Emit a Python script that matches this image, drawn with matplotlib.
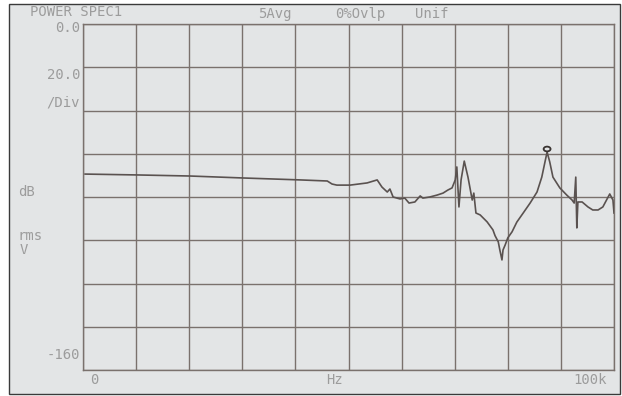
import numpy as np
import matplotlib
matplotlib.use("Agg")
import matplotlib.pyplot as plt
from matplotlib.patches import Rectangle, Ellipse

# spectrum trace (frequency in kHz, level in dB)
freq_khz = [0.4, 10.2, 20.2, 30.1, 40.9, 46.0, 46.9, 47.8, 50.3, 53.5, 55.4, 56.3,
            57.3, 57.8, 58.4, 59.7, 60.6, 61.4, 62.5, 63.5, 64.0, 65.3, 66.7, 67.8,
            68.7, 69.5, 70.1, 70.4, 70.8, 71.2, 71.8, 72.5, 73.3, 73.6, 74.0, 74.8,
            76.1, 77.2, 77.6, 78.2, 78.5, 78.9, 79.1, 79.5, 80.0, 80.8, 81.7,
            82.9, 84.2, 85.5, 86.4, 87.0, 87.4, 87.9, 88.5, 89.8, 91.1, 92.1, 92.5,
            92.8, 93.0, 93.2, 94.0, 95.1, 96.0, 97.0, 97.9, 98.7, 99.2, 99.8, 100.0]
level_db = [-69.4, -69.8, -70.3, -71.2, -72.1, -72.6, -74.0, -74.5, -74.5, -73.5, -72.1, -75.4,
            -77.7, -76.3, -80.0, -80.9, -80.5, -82.8, -82.3, -79.5, -80.5, -80.0, -79.1, -78.2,
            -76.8, -75.8, -72.1, -66.1, -84.6, -72.1, -63.4, -70.8, -81.4, -78.2, -87.4, -88.3,
            -91.5, -95.2, -97.9, -100.7, -104.5, -109.1, -104.5, -102.2, -98.9, -96.1, -91.6,
            -87.4, -82.8, -77.7, -70.8, -63.8, -59.2, -63.8, -70.8, -75.8, -79.1, -81.4, -82.8,
            -70.8, -94.3, -82.3, -82.3, -84.6, -86.0, -86.0, -84.6, -80.9, -78.6, -81.4, -87.4]

marker_khz = 87.4
marker_db = -57.8

x_ticks = np.arange(0, 101, 10)
y_ticks = np.arange(-160, 1, 20)

W, H = 622, 396
bg = "#e3e5e6"
grid_c = "#7a716d"
trace_c = "#5a5250"
txt_c = "#9c9c9c"

fig = plt.figure(figsize=(W / 100, H / 100), dpi=100)
fig.patch.set_facecolor("white")

# scanned frame, kept behind the axes
fig.patches.append(Rectangle((9 / W, 1 - 394 / H), 611 / W, 390 / H,
                             transform=fig.transFigure, facecolor=bg,
                             edgecolor="#3a3a3a", linewidth=1.0, zorder=-5))

ax = fig.add_axes([83 / W, 1 - 370 / H, 531 / W, 346 / H])
ax.set_facecolor(bg)
ax.set_xlim(0, 100)
ax.set_ylim(-160, 0)
ax.set_xticks(x_ticks)
ax.set_yticks(y_ticks)
ax.tick_params(length=0, labelbottom=False, labelleft=False)
ax.grid(True, color=grid_c, linewidth=1.0)
for s in ax.spines.values():
    s.set_color(grid_c)
    s.set_linewidth(1.0)

ax.plot(freq_khz, level_db, color=trace_c, linewidth=1.2, zorder=3)
ax.add_patch(Ellipse((marker_khz, marker_db), 1.3, 2.2, facecolor="none",
                     edgecolor="#3a3432", linewidth=1.3, zorder=4))

mono = "DejaVu Sans Mono"


def label(px, py, s, ha="left", size=10):
    fig.text(px / W, 1 - py / H, s, ha=ha, va="center", color=txt_c,
             family=mono, fontsize=size)


label(30, 12, "POWER SPEC1")
label(258, 14, "5Avg")
label(335, 14, "0%Ovlp")
label(415, 14, "Unif")
label(80, 28, "0.0", ha="right")
label(80, 75, "20.0", ha="right")
label(80, 103, "/Div", ha="right")
label(18, 192, "dB")
label(18, 236, "rms")
label(20, 250, "V")
label(80, 355, "-160", ha="right")
label(90, 380, "0")
label(335, 380, "Hz", ha="center")
label(607, 380, "100k", ha="right")

fig.savefig("out.png", dpi=100, facecolor=fig.get_facecolor())
